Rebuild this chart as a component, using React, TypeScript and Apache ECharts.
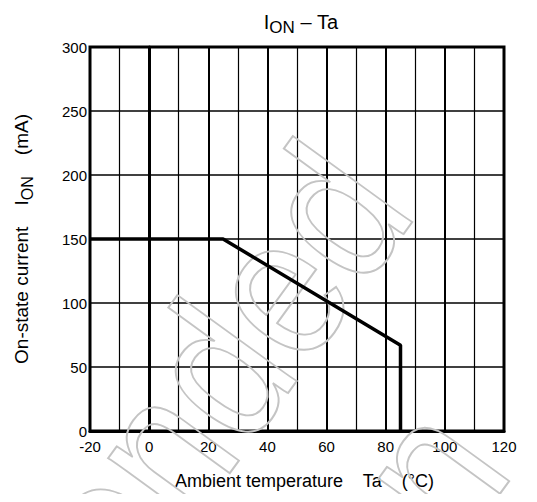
import React, { useEffect, useRef } from "react";
import * as echarts from "echarts";

const xTicks = [-20, 0, 20, 40, 60, 80, 100, 120];
const yTicks = [0, 50, 100, 150, 200, 250, 300];
const tempC = [-20, 25, 85, 85];
const currentMA = [150, 150, 67, 0];

const FONT = "'Liberation Sans', Arial, sans-serif";
const ROT = (54 * Math.PI) / 180;

export default function App() {
  const ref = useRef<HTMLDivElement>(null);
  useEffect(() => {
    if (!ref.current) return;
    const chart = echarts.init(ref.current, null, { renderer: "svg" });
    const data = tempC.map((t, i) => [t, currentMA[i]]);
    const wm = {
      fontSize: 203,
      fontFamily: FONT,
      fill: "none",
      stroke: "#c4c4c4",
      lineWidth: 2,
      textAlign: "right",
      textVerticalAlign: "bottom",
    };
    chart.setOption({
      animation: false,
      backgroundColor: "#fff",
      textStyle: { fontFamily: FONT, color: "#000" },
      title: {
        text: "{a|I}{s|ON}{a| – Ta}",
        left: 296,
        textAlign: "center",
        top: 4,
        textStyle: {
          fontWeight: "normal",
          rich: {
            a: { fontSize: 20, fontWeight: "normal", fontFamily: FONT, color: "#000", verticalAlign: "bottom", lineHeight: 23 },
            s: { fontSize: 17, fontWeight: "normal", fontFamily: FONT, color: "#000", verticalAlign: "bottom", lineHeight: 23, padding: [0, 0, -4, 0] },
          },
        },
      },
      grid: {
        left: 90,
        right: 33,
        top: 47,
        bottom: 71,
        show: true,
        borderColor: "#000",
        borderWidth: 3,
        containLabel: false,
      },
      xAxis: {
        type: "value",
        min: xTicks[0],
        max: xTicks[xTicks.length - 1],
        interval: 20,
        name: "Ambient temperature    Ta    (°C)",
        nameLocation: "middle",
        nameGap: 41,
        nameTextStyle: { fontSize: 18, fontFamily: FONT, color: "#000", padding: [0, 0, 0, 15] },
        axisLine: { show: true, lineStyle: { color: "#000", width: 3 } },
        axisTick: { show: false },
        axisLabel: { fontSize: 15, fontFamily: FONT, color: "#000", margin: 8 },
        splitLine: { show: true, lineStyle: { color: "#000", width: 2 } },
        minorTick: { show: false, splitNumber: 2 },
        minorSplitLine: { show: true, lineStyle: { color: "#000", width: 1.2 } },
      },
      yAxis: {
        type: "value",
        min: yTicks[0],
        max: yTicks[yTicks.length - 1],
        interval: 50,
        name: "{a|On-state current    I}{s|ON}{a|    (mA)}",
        nameLocation: "middle",
        nameGap: 59,
        nameRotate: 90,
        nameTextStyle: {
          rich: {
            a: { fontSize: 19, fontFamily: FONT, color: "#000", verticalAlign: "bottom", lineHeight: 22 },
            s: { fontSize: 16, fontFamily: FONT, color: "#000", verticalAlign: "bottom", lineHeight: 22, padding: [0, 0, -4, 0] },
          },
        },
        axisLine: { show: true, lineStyle: { color: "#000", width: 3 } },
        axisTick: { show: false },
        axisLabel: { fontSize: 15, fontFamily: FONT, color: "#000", margin: 3 },
        splitLine: { show: true, lineStyle: { color: "#000", width: 1.5 } },
      },
      graphic: [
        {
          type: "text",
          x: 444,
          y: 231,
          rotation: ROT,
          scaleX: 0.87,
          z: 1,
          silent: true,
          style: { ...wm, text: "Not Recommended" },
        },
        {
          type: "text",
          x: 541,
          y: 490,
          rotation: ROT,
          scaleX: 0.87,
          z: 1,
          silent: true,
          style: { ...wm, text: "for New Design" },
        },
      ],
      series: [
        {
          type: "line",
          data,
          showSymbol: false,
          symbol: "none",
          lineStyle: { color: "#000", width: 3.5 },
          z: 5,
        },
      ],
    });
    return () => chart.dispose();
  }, []);
  return <div ref={ref} style={{ width: 537, height: 502, margin: -8 }} />;
}
